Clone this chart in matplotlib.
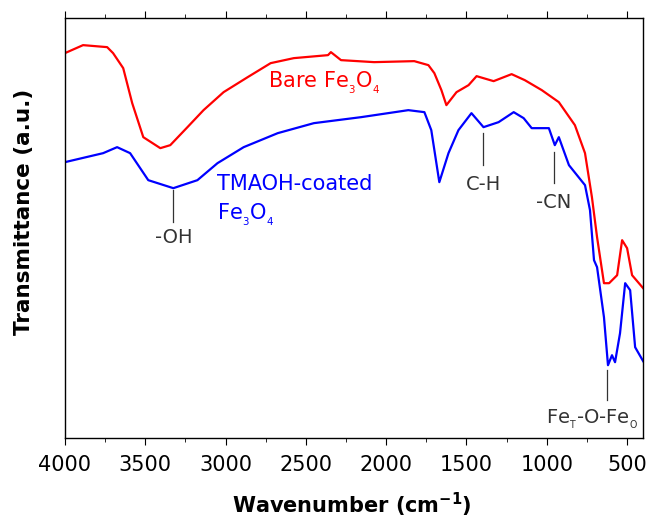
import matplotlib
matplotlib.use("Agg")
import matplotlib.pyplot as plt
from matplotlib.ticker import MultipleLocator

plt.rcParams['font.family'] = ['DejaVu Sans']
plt.rcParams['mathtext.fontset'] = 'dejavusans'

# Bare Fe3O4 spectrum (wavenumber cm-1, transmittance a.u.)
bare_wn = [4000, 3887, 3737, 3700, 3637, 3581, 3512, 3406, 3344, 3237, 3137, 3012,
           2862, 2719, 2575, 2362, 2344, 2281, 2075, 1825, 1737, 1700, 1656, 1625,
           1562, 1487, 1437, 1331, 1219, 1137, 1031, 925, 825, 762, 719, 687, 644,
           612, 562, 531, 500, 469, 400]
bare_t = [385, 393, 391, 385, 370, 335, 301, 290, 293, 311, 328, 346,
          361, 375, 380, 383, 386, 378, 376, 377, 373, 365, 348, 333,
          346, 353, 362, 357, 364, 358, 348, 336, 313, 285, 241, 201, 155,
          155, 163, 198, 190, 163, 150]

# TMAOH-coated Fe3O4 spectrum
coat_wn = [4000, 3762, 3675, 3594, 3481, 3325, 3175, 3050, 2887, 2675, 2450, 2156,
           1862, 1762, 1719, 1669, 1612, 1550, 1469, 1394, 1300, 1206, 1144, 1094,
           987, 950, 925, 862, 762, 731, 706, 687, 644, 619, 594, 575, 544, 512,
           481, 450, 400]
coat_t = [276, 285, 291, 285, 258, 250, 258, 275, 291, 305, 315, 321,
          328, 326, 308, 256, 285, 308, 325, 311, 316, 326, 320, 310,
          310, 293, 301, 273, 253, 228, 178, 171, 121, 73, 83, 76, 105, 155,
          148, 91, 77]

fig = plt.figure(figsize=(6.49, 5.18), dpi=100)
ax = fig.add_axes([0.100, 0.154, 0.891, 0.811])

ax.plot(bare_wn, bare_t, color='#ff0000', lw=1.6)
ax.plot(coat_wn, coat_t, color='#0000ff', lw=1.6)

ax.set_xlim(4000, 400)
ax.set_ylim(0, 420)
ax.xaxis.set_major_locator(MultipleLocator(500))
ax.xaxis.set_minor_locator(MultipleLocator(250))
ax.set_yticks([])
ax.tick_params(axis='x', which='both', direction='out', top=True, labelsize=15, pad=7)
ax.tick_params(axis='x', which='major', length=5)
ax.tick_params(axis='x', which='minor', length=3)
for s in ax.spines.values():
    s.set_linewidth(1.0)

ax.set_xlabel('Wavenumber (cm$^{\\mathregular{-1}}$)', fontsize=15, fontweight='bold')
ax.xaxis.set_label_coords(0.497, -0.125)
ax.set_ylabel('Transmittance (a.u.)', fontsize=15.5, fontweight='bold')
ax.yaxis.set_label_coords(-0.053, 0.54)

# sample labels
ax.text(2737, 350, r'Bare Fe$_{{}_3}$O$_{{}_4}$', color='#ff0000', fontsize=15, va='baseline')
ax.text(3050, 248, 'TMAOH-coated', color='#0000ff', fontsize=15, va='baseline')
ax.text(3050, 218, r'Fe$_{{}_3}$O$_{{}_4}$', color='#0000ff', fontsize=15, va='baseline')

# band annotations
ann_wn = [3325, 1394, 956, 625]
ann_top = [248, 305, 286, 68]
ann_bot = [216, 273, 255, 38]
ann_txt_y = [210, 263, 245, 31]
ann_lab = ['-OH', 'C-H', '-CN', r'Fe$_{{}_\mathrm{T}}$-O-Fe$_{{}_\mathrm{O}}$']
ann_txt_x = [3325, 1394, 956, 719]
for x, y0, y1, tx, ty, lab in zip(ann_wn, ann_top, ann_bot, ann_txt_x, ann_txt_y, ann_lab):
    ax.plot([x, x], [y0, y1], color='#333333', lw=0.9)
    ax.text(tx, ty, lab, color='#333333', fontsize=14, ha='center', va='top')

fig.savefig('out.png', dpi=100)
